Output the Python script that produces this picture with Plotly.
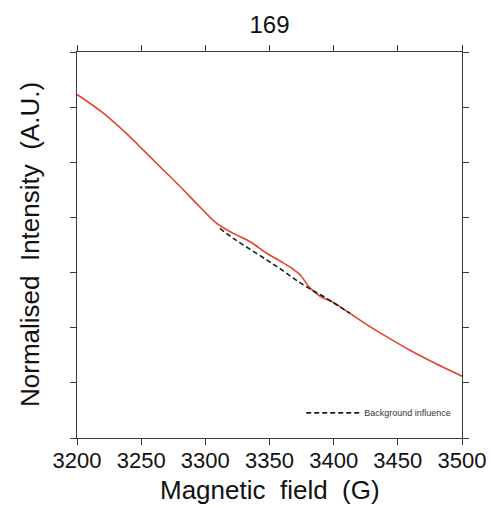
import plotly.graph_objects as go

# Spectrum (red)
field = [3200, 3220.5, 3241.3, 3251.7, 3264.7, 3280.3, 3295.8, 3308.9, 3321.8, 3334.8,
         3347.8, 3358.2, 3368.5, 3373.8, 3381.6, 3389.4, 3399.7, 3412.7, 3428.3, 3449.1,
         3459.5, 3475.1, 3500]
intensity = [6.23, 5.89, 5.46, 5.22, 4.92, 4.56, 4.19, 3.89, 3.71, 3.56,
             3.35, 3.21, 3.06, 2.96, 2.72, 2.57, 2.46, 2.26, 2.02, 1.73,
             1.59, 1.40, 1.12]

# Background influence (dashed)
bg_field = [3311.4, 3321.8, 3347.8, 3358.2, 3368.5, 3379.0, 3394.6, 3412.7]
bg_intensity = [3.80, 3.62, 3.23, 3.07, 2.90, 2.74, 2.53, 2.26]

x_ticks = [3200, 3250, 3300, 3350, 3400, 3450, 3500]
x_ticklabels = ["3200", "3250", "3300", "3350", "3400", "3450", "3500"]

FONT = "Liberation Sans, Arial, Helvetica, sans-serif"
AX = "#3a3a3a"

fig = go.Figure()
fig.add_trace(go.Scatter(x=field, y=intensity, mode="lines", line_shape="spline",
                         line=dict(color="#e8402a", width=1.6), showlegend=False,
                         name="Spectrum"))
fig.add_trace(go.Scatter(x=bg_field, y=bg_intensity, mode="lines", line_shape="spline",
                         line=dict(color="#1a1a1a", width=1.6, dash="5px,3px"),
                         name="Background influence", showlegend=True))

fig.update_layout(
    width=492, height=508, autosize=False,
    margin=dict(l=77, r=30, t=52, b=70, autoexpand=False),
    paper_bgcolor="white", plot_bgcolor="white",
    font=dict(family=FONT, color="#111"),
    title=dict(text="169", x=0.5, xref="paper", xanchor="center",
               y=1 - 25 / 508, yref="container", yanchor="middle",
               font=dict(size=24, color="#111", family=FONT)),
    xaxis=dict(range=[3200, 3500], tickvals=x_ticks, ticktext=x_ticklabels,
               ticks="outside", ticklen=6, tickwidth=1, tickcolor=AX,
               showline=True, linecolor=AX, linewidth=1, mirror="ticks",
               showgrid=False, zeroline=False, automargin=False,
               ticklabelstandoff=-3,
               tickfont=dict(size=22, color="#111", family=FONT)),
    yaxis=dict(range=[0, 7], dtick=1, tick0=0, showticklabels=False,
               ticks="outside", ticklen=6, tickwidth=1, tickcolor=AX,
               showline=True, linecolor=AX, linewidth=1, mirror="ticks",
               showgrid=False, zeroline=False, automargin=False),
    legend=dict(x=0.985, y=0.065, xanchor="right", yanchor="middle",
                bgcolor="rgba(0,0,0,0)", itemwidth=53,
                font=dict(size=9, color="#333", family=FONT)),
    annotations=[
        dict(text="Magnetic\u00a0 field\u00a0 (G)", xref="paper", yref="paper",
             x=0.5, y=(438 - 490) / 386, xanchor="center", yanchor="middle",
             showarrow=False, font=dict(size=26, color="#111", family=FONT)),
        dict(text="Normalised\u00a0 Intensity\u00a0 (A.U.)", xref="paper", yref="paper",
             x=(30 - 77) / 385, y=0.5, xanchor="center", yanchor="middle",
             textangle=-90, showarrow=False,
             font=dict(size=26, color="#111", family=FONT)),
    ],
)

fig.write_html("out.html", config={"displayModeBar": False},
               post_script="document.body.style.margin='0';document.body.style.overflow='hidden';")
